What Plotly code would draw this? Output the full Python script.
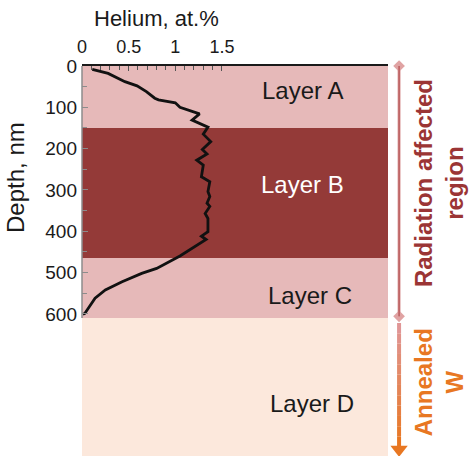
import plotly.graph_objects as go

# Helium concentration profile (at.%) versus depth (nm)
depth_nm = [8, 18, 38, 48, 62, 78, 82, 89, 100, 116, 131, 148, 165, 183, 202, 213,
            228, 240, 268, 280, 304, 316, 332, 340, 357, 369, 401, 412, 420, 444,
            460, 490, 502, 522, 542, 562, 587, 599, 601]
helium_at = [0.11, 0.28, 0.46, 0.59, 0.69, 0.78, 0.82, 1.00, 1.05, 1.26, 1.18, 1.35,
             1.30, 1.38, 1.29, 1.34, 1.23, 1.30, 1.28, 1.37, 1.35, 1.37, 1.34, 1.37,
             1.32, 1.35, 1.35, 1.28, 1.33, 1.16, 1.05, 0.80, 0.64, 0.43, 0.25, 0.14,
             0.07, 0.03, 0.01]

# Layer stack
layer_names = ["Layer A", "Layer B", "Layer C", "Layer D"]
layer_top = [0, 150, 465, 610]
layer_bottom = [150, 465, 610, 944]
layer_fill = ["#e6b9b9", "#943a38", "#e6b9b9", "#fce8dc"]
layer_text_color = ["#1a1a1a", "#ffffff", "#1a1a1a", "#1a1a1a"]

x_ticks = [0, 0.5, 1, 1.5]
x_minor = [i / 10 for i in range(16)]
y_ticks = [0, 100, 200, 300, 400, 500, 600]
y_minor = [50, 150, 250, 350, 450, 550]

FONT = "Liberation Sans, Arial, sans-serif"
W, H = 472, 456
ML, MT = 82, 66
PLOT_W = 306          # width of the profile panel in pixels
PAN_W = W - ML        # full drawing width (panel + side annotations)
X_MAX = 3.28
Y_MAX = layer_bottom[-1]

fig = go.Figure()

# Layer bands
shapes = []
for top, bot, col in zip(layer_top, layer_bottom, layer_fill):
    shapes.append(dict(type="rect", xref="x domain", yref="y", x0=0, x1=1,
                       y0=top, y1=bot, fillcolor=col, line=dict(width=0),
                       layer="below"))

# Left axis line (only through the irradiated part)
shapes.append(dict(type="line", xref="x domain", yref="y", x0=0, x1=0,
                   y0=0, y1=layer_top[3], line=dict(color="#8c8c8c", width=1.5)))

fig.add_trace(go.Scatter(x=helium_at, y=depth_nm, mode="lines",
                         line=dict(color="#111111", width=2.8),
                         showlegend=False, hoverinfo="skip"))

# Side markers: radiation-affected region (layers A-C) and annealed W (layer D)
side_x = 0.5
fig.add_trace(go.Scatter(x=[side_x, side_x], y=[layer_top[0], layer_top[3] - 4],
                         xaxis="x2", yaxis="y", mode="lines+markers",
                         line=dict(color="#dca0a0", width=3),
                         marker=dict(symbol="diamond", size=9, color="#e0a3a3"),
                         cliponaxis=False, showlegend=False, hoverinfo="skip"))
fig.add_trace(go.Scatter(x=[side_x, side_x], y=[layer_top[0], layer_top[3] - 4],
                         xaxis="x2", yaxis="y", mode="lines",
                         line=dict(color="#a8393b", width=1),
                         cliponaxis=False, showlegend=False, hoverinfo="skip"))

# Gradient arrow shaft (pink to orange)
arrow_top = layer_top[3] + 12
arrow_end = Y_MAX - 22
n_seg = 12
c0 = (224, 150, 150)
c1 = (232, 119, 34)
for i in range(n_seg):
    t = i / (n_seg - 1)
    col = "rgb(%d,%d,%d)" % tuple(round(a + (b - a) * t) for a, b in zip(c0, c1))
    ya = arrow_top + (arrow_end - arrow_top) * i / n_seg
    yb = arrow_top + (arrow_end - arrow_top) * (i + 1) / n_seg
    fig.add_trace(go.Scatter(x=[side_x, side_x], y=[ya, yb], xaxis="x2", yaxis="y",
                             mode="lines", line=dict(color=col, width=4),
                             cliponaxis=False, showlegend=False, hoverinfo="skip"))
fig.add_trace(go.Scatter(x=[side_x], y=[arrow_end + 6], xaxis="x2", yaxis="y",
                         mode="markers",
                         marker=dict(symbol="triangle-down", size=15, color="#e87722"),
                         cliponaxis=False, showlegend=False, hoverinfo="skip"))

annotations = []
label_x = [2.36, 2.36, 2.44, 2.47]
label_y = [60, 288, 555, 816]
for name, lx, ly, tc in zip(layer_names, label_x, label_y, layer_text_color):
    annotations.append(dict(x=lx, y=ly, xref="x", yref="y", text=name,
                            showarrow=False, xanchor="center", yanchor="middle",
                            font=dict(family=FONT, size=24, color=tc)))

annotations.append(dict(x=0.8, y=1, xref="x", yref="paper", yshift=48,
                        xanchor="center", yanchor="middle",
                        text="Helium, at.%", showarrow=False,
                        font=dict(family=FONT, size=22, color="#1a1a1a")))
annotations.append(dict(x=0, y=271, xref="paper", yref="y", xshift=-66,
                        xanchor="center", yanchor="middle",
                        text="Depth, nm", textangle=-90, showarrow=False,
                        font=dict(family=FONT, size=24, color="#1a1a1a")))
annotations.append(dict(x=2.7, y=283, xref="x2", yref="y",
                        xanchor="center", yanchor="middle", borderpad=0,
                        text="<b>Radiation affected</b><br><b>region</b>",
                        textangle=-90, showarrow=False,
                        font=dict(family=FONT, size=24, color="#9b3535")))
annotations.append(dict(x=2.7, y=765, xref="x2", yref="y",
                        xanchor="center", yanchor="middle", borderpad=0,
                        text="<b>Annealed</b><br><b>W</b>", textangle=-90,
                        showarrow=False,
                        font=dict(family=FONT, size=24, color="#e87722")))

fig.update_layout(
    width=W, height=H,
    margin=dict(l=ML, r=0, t=MT, b=0),
    paper_bgcolor="white", plot_bgcolor="white",
    shapes=shapes, annotations=annotations,
    xaxis=dict(domain=[0, PLOT_W / PAN_W], range=[0, X_MAX], side="top",
               tickmode="array", tickvals=x_ticks, ticktext=["0", "0.5", "1", "1.5"],
               ticks="inside", ticklen=5, tickcolor="#555555", tickwidth=1,
               minor=dict(tickmode="array", tickvals=x_minor, ticks="inside",
                          ticklen=4, tickcolor="#555555"),
               showline=True, linecolor="#1a1a1a", linewidth=2, mirror=False,
               showgrid=False, zeroline=False, ticklabelstandoff=4,
               tickfont=dict(family=FONT, size=18, color="#1a1a1a")),
    xaxis2=dict(domain=[PLOT_W / PAN_W + 0.005, 1], range=[0, 4.5], visible=False,
                anchor="y"),
    yaxis=dict(range=[Y_MAX, 0], tickmode="array", tickvals=y_ticks,
               ticks="inside", ticklen=6, tickcolor="#8c8c8c",
               minor=dict(tickmode="array", tickvals=y_minor, ticks="inside",
                          ticklen=5, tickcolor="#8c8c8c"),
               showline=False, showgrid=False, zeroline=False, ticklabelstandoff=4,
               tickfont=dict(family=FONT, size=19, color="#1a1a1a")),
)

fig.write_html("out.html")
